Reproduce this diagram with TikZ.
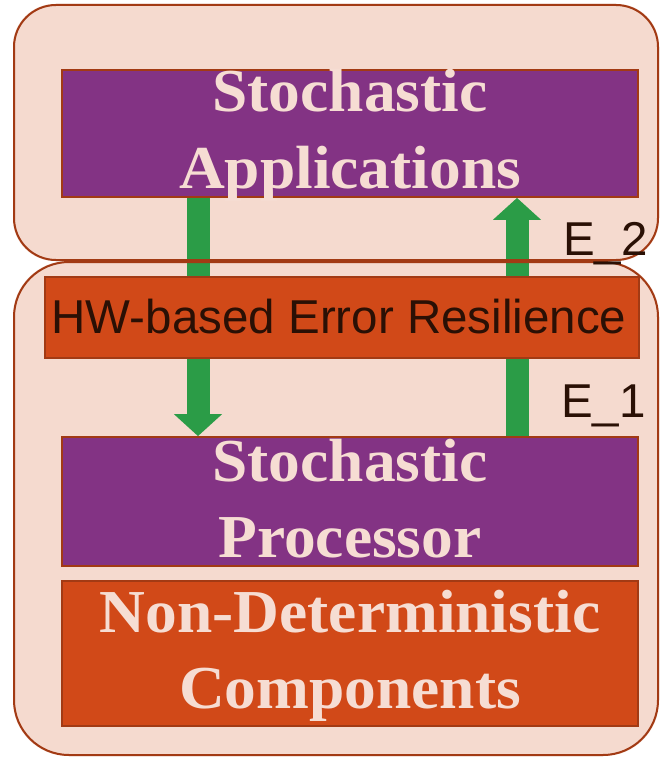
\documentclass[tikz,border=0pt]{standalone}
\usepackage{fontspec}
\setmainfont{Liberation Serif}
\newfontfamily\serifwide[FakeStretch=1.04]{Liberation Serif}
\newfontfamily\hwfont{Liberation Sans}
\usetikzlibrary{arrows.meta}
\pgfdeclarelayer{back}
\pgfdeclarelayer{mid}
\pgfsetlayers{back,mid,main}
\definecolor{bgpink}{HTML}{F5DACF}
\definecolor{purplebox}{HTML}{833384}
\definecolor{orangebox}{HTML}{D14918}
\definecolor{bordercol}{HTML}{A23A14}
\definecolor{greenarrow}{HTML}{2B9C47}
\definecolor{lighttext}{HTML}{F6DDD3}
\definecolor{darktext}{HTML}{2A1005}
\tikzset{
  layeroutline/.style={draw=bordercol, line width=2pt, inner sep=0pt},
  blockbox/.style={draw=bordercol, line width=1.8pt, inner sep=0pt},
  serifbig/.style={text=lighttext, inner sep=0pt, anchor=base,
    font=\serifwide\fontsize{61}{76}\selectfont\bfseries},
  sanslabel/.style={text=darktext, inner sep=0pt,
    font=\hwfont\fontsize{47.5}{56}\selectfont},
  garrow/.style={draw=greenarrow, line width=23pt,
    -{Triangle[width=47pt,length=22pt]}}
}
\begin{document}
\begin{tikzpicture}[x=1pt,y=-1pt]
\begin{pgfonlayer}{back}
\fill[white] (0,0) rectangle (660,757);
\end{pgfonlayer}
\useasboundingbox (0,0) rectangle (660,757);
% layer containers (outlines on main layer, fills behind arrows)
\node[layeroutline, rounded corners=42pt, minimum width=644pt, minimum height=255pt] (upper) at (336,132.5) {};
\node[layeroutline, rounded corners=55pt, minimum width=644pt, minimum height=493pt] (lower) at (336,508.5) {};
\begin{pgfonlayer}{back}
\fill[bgpink, rounded corners=42pt] (upper.north west) rectangle (upper.south east);
\fill[bgpink, rounded corners=55pt] (lower.north west) rectangle (lower.south east);
\end{pgfonlayer}
% blocks
\node[blockbox, fill=purplebox, minimum width=576pt, minimum height=127pt] (apps) at (350,133.5) {};
\node[blockbox, fill=orangebox, minimum width=594pt, minimum height=81pt] (hw) at (342,317.5) {};
\node[blockbox, fill=purplebox, minimum width=576pt, minimum height=129pt] (proc) at (350,501.5) {};
\node[blockbox, fill=orangebox, minimum width=576pt, minimum height=145pt] (nondet) at (350,653.5) {};
% arrows (behind the blocks)
\begin{pgfonlayer}{mid}
\draw[garrow] ([xshift=-152pt]apps.south) -- ([xshift=-152pt]proc.north);
\draw[garrow] ([xshift=167pt]proc.north) -- ([xshift=167pt]apps.south);
\end{pgfonlayer}
% texts
\node[serifbig] (t1) at (350,112) {Stochastic};
\node[serifbig] (t2) at (350,188) {Applications};
\node[serifbig] (t3) at (350,481) {Stochastic};
\node[serifbig] (t4) at (350,557) {Processor};
\node[serifbig] (t5) at (350,632) {Non-Deterministic};
\node[serifbig] (t6) at (350,708) {Components};
\node[sanslabel, anchor=base] (hwt) at (339,333) {HW-based Error Resilience};
\node[sanslabel, anchor=base west] (e2) at (563,255) {E\_2};
\node[sanslabel, anchor=base west] (e1) at (561,417) {E\_1};
\end{tikzpicture}
\end{document}
